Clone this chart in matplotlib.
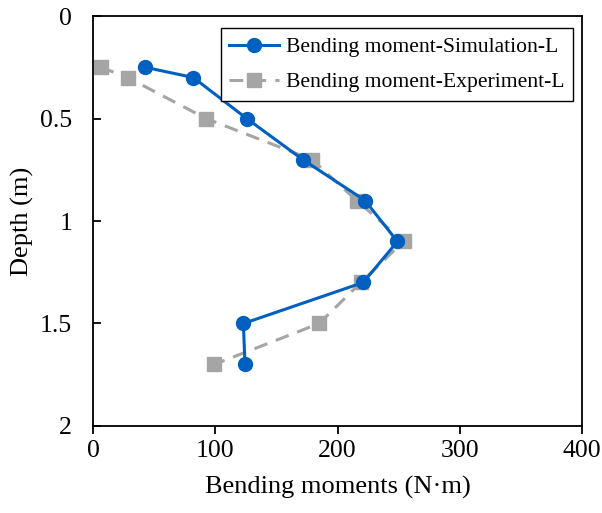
import matplotlib
matplotlib.use('Agg')
import matplotlib.pyplot as plt

# depth (m) and bending moments (N·m)
depth = [0.25, 0.3, 0.5, 0.7, 0.9, 1.1, 1.3, 1.5, 1.7]
moment_sim = [42.5, 82, 125.7, 171.5, 222.5, 249, 221, 123, 124.3]
moment_exp = [6.3, 28.4, 92.4, 179, 215.7, 254, 219, 185, 99]

x_ticks = [0, 100, 200, 300, 400]
y_ticks = [0, 0.5, 1, 1.5, 2]
y_tick_labels = ['0', '0.5', '1', '1.5', '2']

plt.rcParams['font.family'] = ['Liberation Serif', 'DejaVu Serif']

fig = plt.figure(figsize=(6.02, 5.13), dpi=100)
ax = fig.add_axes([0.1545, 0.1696, 0.8123, 0.7992])

ax.plot(moment_sim, depth, color='#0060C0', linewidth=2.2, marker='o',
        markersize=10, label='Bending moment-Simulation-L', zorder=3)
ax.plot(moment_exp, depth, color='#A5A5A5', linewidth=2.2,
        linestyle=(0, (4.5, 3)), marker='s', markersize=10,
        label='Bending moment-Experiment-L', zorder=2)

ax.set_xlim(0, 400)
ax.set_ylim(2, 0)
ax.set_xticks(x_ticks)
ax.set_yticks(y_ticks)
ax.set_yticklabels(y_tick_labels)

ax.tick_params(axis='x', direction='out', length=6, width=1.3, labelsize=18.5, pad=4)
ax.tick_params(axis='y', direction='in', length=6, width=1.3, labelsize=18.5, pad=15)
for s in ax.spines.values():
    s.set_linewidth(1.3)

ax.set_xlabel('Bending moments (N·m)', fontsize=19)
ax.set_ylabel('Depth (m)', fontsize=19, va='center')
ax.xaxis.set_label_coords(0.5, -0.122)
ax.yaxis.set_label_coords(-0.145, 0.5)

leg = ax.legend(loc='upper right', bbox_to_anchor=(0.981, 0.970),
                borderaxespad=0, fontsize=15.6, frameon=True, fancybox=False,
                edgecolor='black', framealpha=1, handlelength=2.3,
                handletextpad=0.3, labelspacing=0.7, borderpad=0.4)
leg.get_frame().set_linewidth(1.0)

fig.savefig('out.png', dpi=100)
